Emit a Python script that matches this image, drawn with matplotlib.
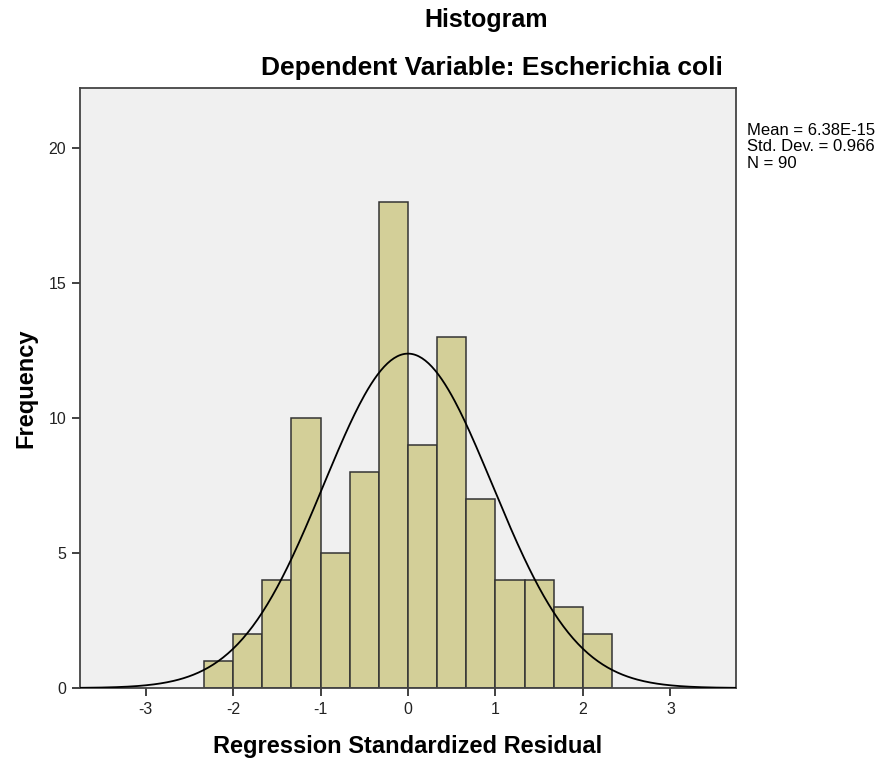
import numpy as np
import matplotlib.pyplot as plt

plt.rcParams['font.family'] = ['Liberation Sans', 'DejaVu Sans']
plt.rcParams['axes.unicode_minus'] = False

# histogram of regression residuals
bin_left = [-2.333, -2.0, -1.667, -1.333, -1.0, -0.667, -0.333,
            0.0, 0.333, 0.667, 1.0, 1.333, 1.667, 2.0]
counts = [1, 2, 4, 10, 5, 8, 18, 9, 13, 7, 4, 4, 3, 2]
bin_width = 0.3333
mean = 6.38e-15
std_dev = 0.966
n = 90

fig = plt.figure(figsize=(8.82, 7.64), dpi=100)
ax = fig.add_axes([80 / 882, 1 - 688 / 764, 656 / 882, 600 / 764])
ax.set_facecolor('#f0f0f0')

ax.bar(bin_left, counts, width=bin_width, align='edge',
       color='#d3cf98', edgecolor='#333333', linewidth=1.1, zorder=2)

# fitted normal curve
x = np.linspace(-3.75, 3.75, 400)
y = n * bin_width / (std_dev * np.sqrt(2 * np.pi)) * np.exp(-0.5 * ((x - mean) / std_dev) ** 2)
ax.plot(x, y, color='black', linewidth=1.3, zorder=3)

ax.set_xlim(-3.75, 3.75)
ax.set_ylim(0, 22.23)
ax.set_xticks([-3, -2, -1, 0, 1, 2, 3])
ax.set_yticks([0, 5, 10, 15, 20])
ax.tick_params(direction='out', length=6, width=1.3, color='#333333',
               labelsize=11.5, labelcolor='#222222', pad=4)
for s in ax.spines.values():
    s.set_color('#444444')
    s.set_linewidth(1.3)

ax.set_xlabel('Regression Standardized Residual', fontsize=17, fontweight='bold', labelpad=13)
ax.set_ylabel('Frequency', fontsize=17, fontweight='bold', labelpad=8)

fig.text(486 / 882, 1 - 20 / 764, 'Histogram', fontsize=18, fontweight='bold',
         ha='center', va='center')
fig.text(492 / 882, 1 - 68 / 764, 'Dependent Variable: Escherichia coli', fontsize=19,
         fontweight='bold', ha='center', va='center')

fig.text(747 / 882, 1 - 123 / 764,
         'Mean = 6.38E-15\nStd. Dev. = 0.966\nN = 90',
         fontsize=12, ha='left', va='top', linespacing=1.12)

fig.savefig('out.png', dpi=100)
